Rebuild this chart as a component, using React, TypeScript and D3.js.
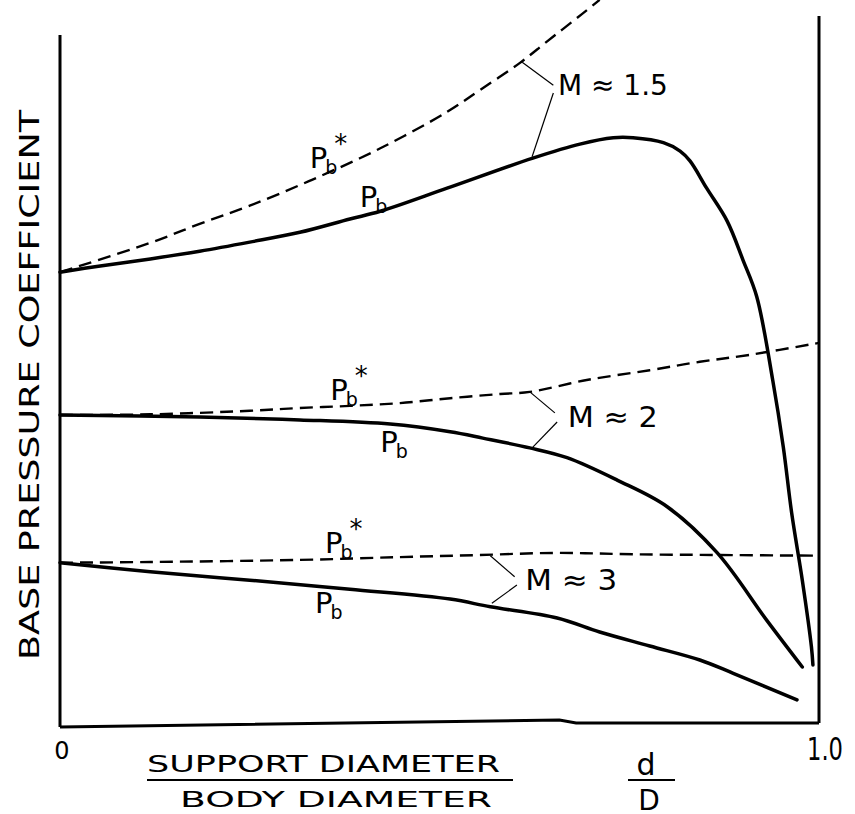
import React from "react";
import * as d3 from "d3";

// d/D (support diameter / body diameter) and base pressure coefficient (arbitrary units)
const m15PbD = [0, 0.053, 0.119, 0.184, 0.25, 0.316, 0.382, 0.422, 0.51, 0.623, 0.685, 0.729, 0.755, 0.795, 0.817, 0.83, 0.852, 0.879, 0.9, 0.918, 0.939, 0.953, 0.964, 0.978, 0.99, 0.992];
const m15PbV = [64.4, 65.3, 66.3, 67.4, 68.7, 70.1, 72.0, 73.1, 76.4, 80.7, 82.7, 83.6, 83.6, 82.9, 81.7, 80.3, 76.4, 71.7, 66.1, 60.9, 49.0, 39.4, 30.0, 20.4, 10.9, 8.3];

const m15StarD = [0, 0.119, 0.184, 0.25, 0.332, 0.422, 0.51, 0.553, 0.606, 0.641, 0.688, 0.711];
const m15StarV = [64.4, 68.6, 71.3, 73.9, 77.6, 82.1, 87.3, 90.4, 94.3, 97.3, 101.3, 103.3];

const m2StarD = [0, 0.119, 0.25, 0.316, 0.382, 0.448, 0.514, 0.58, 0.619, 0.694, 0.777, 0.843, 0.909, 1.0];
const m2StarV = [44.0, 44.1, 44.6, 45.0, 45.3, 45.7, 46.4, 47.0, 47.3, 49.0, 50.4, 51.6, 52.6, 54.3];

const m2PbD = [0, 0.184, 0.316, 0.435, 0.514, 0.557, 0.619, 0.668, 0.734, 0.8, 0.866, 0.931, 0.978];
const m2PbV = [44.0, 43.7, 43.3, 42.7, 41.6, 40.7, 39.3, 37.9, 34.7, 30.9, 24.3, 14.7, 8.0];

const m3StarD = [0, 0.119, 0.316, 0.448, 0.553, 0.655, 0.755, 0.87, 1.0];
const m3StarV = [22.9, 23.0, 23.3, 23.7, 24.0, 24.3, 24.1, 24.0, 23.9];

const m3PbD = [0, 0.119, 0.25, 0.382, 0.514, 0.567, 0.655, 0.711, 0.777, 0.843, 0.887, 0.971];
const m3PbV = [22.9, 21.6, 20.4, 19.1, 17.7, 16.6, 15.0, 13.0, 11.0, 9.0, 7.1, 3.3];

// Mach labels: text, position (d, v), leader lines [[d,v],[d,v]]
const machTexts = ["M \u2248 1.5", "M \u2248 2", "M \u2248 3"];
const machPos = [[0.656, 89.7], [0.669, 42.3], [0.613, 19.0]];
const machLen = [110, 90, 92];
const machLeaders = [
  [[[0.609, 94.4], [0.65, 91.1]], [[0.65, 90.0], [0.622, 80.9]]],
  [[[0.619, 47.3], [0.652, 44.3]], [[0.655, 43.0], [0.623, 39.4]]],
  [[[0.567, 23.9], [0.599, 20.9]], [[0.602, 19.7], [0.569, 17.1]]],
];

// Curve labels: position (d, v), starred?
const pbPos = [[0.329, 79.3], [0.395, 73.7], [0.356, 46.1], [0.422, 38.7], [0.349, 24.3], [0.336, 15.7]];
const pbStar = [true, false, true, false, true, false];

const xTickLabels = ["0", "1.0"];
const yTitle = "BASE PRESSURE COEFFICIENT";
const xTitleTop = "SUPPORT DIAMETER";
const xTitleBottom = "BODY DIAMETER";

const W = 855, H = 814;
const x = d3.scaleLinear().domain([0, 1]).range([60, 819]);
const y = d3.scaleLinear().domain([0, 100]).range([723, 23]);

const zip = (a: number[], b: number[]) => a.map((d, i) => [d, b[i]] as [number, number]);
const line = d3.line<[number, number]>().x(d => x(d[0])).y(d => y(d[1])).curve(d3.curveCatmullRom.alpha(0.5));
const straight = d3.line<[number, number]>().x(d => x(d[0])).y(d => y(d[1]));

const solids = [zip(m15PbD, m15PbV), zip(m2PbD, m2PbV), zip(m3PbD, m3PbV)];
const dashes = [zip(m15StarD, m15StarV), zip(m2StarD, m2StarV), zip(m3StarD, m3StarV)];

const bottomAxis: [number, number][] = [[0, -0.57], [0.658, 0.43], [0.68, 0], [1.0, 0]];

const FONT = "'DejaVu Sans', sans-serif";

export default function App() {
  return (
    <svg width={W} height={H} viewBox={`0 0 ${W} ${H}`}
      style={{ position: "absolute", left: 0, top: 0, background: "#fff" }}
      fontFamily={FONT}>
      <rect x={0} y={0} width={W} height={H} fill="#fff" />
      {/* axes */}
      <line x1={x(0)} x2={x(0)} y1={y(98.3)} y2={y(-0.57)} stroke="#000" strokeWidth={3} />
      <line x1={x(1)} x2={x(1)} y1={y(101)} y2={y(0)} stroke="#000" strokeWidth={3} />
      <path d={straight(bottomAxis) || ""} fill="none" stroke="#000" strokeWidth={3} />

      {/* curves */}
      {dashes.map((s, i) => (
        <path key={"d" + i} d={line(s) || ""} fill="none" stroke="#000" strokeWidth={2.4} strokeDasharray="13 7" />
      ))}
      {solids.map((s, i) => (
        <path key={"s" + i} d={line(s) || ""} fill="none" stroke="#000" strokeWidth={3.5} strokeLinecap="round" />
      ))}

      {/* Mach labels and leaders */}
      {machTexts.map((t, i) => (
        <g key={"m" + i}>
          {machLeaders[i].map((seg, j) => (
            <path key={j} d={straight(seg as [number, number][]) || ""} stroke="#000" strokeWidth={1.2} fill="none" />
          ))}
          <text x={x(machPos[i][0])} y={y(machPos[i][1])} fontSize={29} textLength={machLen[i]} lengthAdjust="spacingAndGlyphs" fill="#000">{t}</text>
        </g>
      ))}

      {/* Pb labels */}
      {pbPos.map((p, i) => (
        <text key={"p" + i} x={x(p[0])} y={y(p[1])} fontSize={29} fill="#000">
          P
          <tspan fontSize={19} dx={-2} dy={6}>b</tspan>
          {pbStar[i] ? <tspan fontSize={26} dx={-3} dy={-21}>*</tspan> : null}
        </text>
      ))}

      {/* tick labels */}
      <text x={x(0) + 2} y={759} fontSize={24} textAnchor="middle" fill="#000">{xTickLabels[0]}</text>
      <text x={x(1) + 6} y={760} fontSize={32} textAnchor="middle" fill="#000" textLength={36} lengthAdjust="spacingAndGlyphs">{xTickLabels[1]}</text>

      {/* x title */}
      <text x={147} y={772} fontSize={23} textLength={353} lengthAdjust="spacingAndGlyphs" fill="#000">{xTitleTop}</text>
      <line x1={147} x2={513} y1={780} y2={780} stroke="#000" strokeWidth={2} />
      <text x={180} y={807} fontSize={22} textLength={312} lengthAdjust="spacingAndGlyphs" fill="#000">{xTitleBottom}</text>
      <text x={646} y={775} fontSize={30} textAnchor="middle" fill="#000">d</text>
      <line x1={628} x2={675} y1={780} y2={780} stroke="#000" strokeWidth={2} />
      <text x={649} y={810} fontSize={28} textAnchor="middle" fill="#000">D</text>

      {/* y title */}
      <text transform="translate(39,385) rotate(-90)" fontSize={27} textAnchor="middle" textLength={550} lengthAdjust="spacingAndGlyphs" fill="#000">{yTitle}</text>
    </svg>
  );
}
